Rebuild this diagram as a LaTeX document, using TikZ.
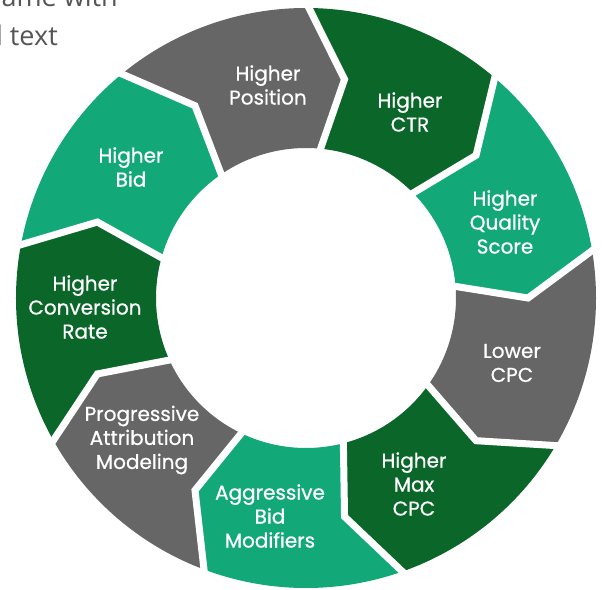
\documentclass[tikz,border=0pt]{standalone}
\usepackage{fontspec}
\setmainfont{Poppins}
\newfontfamily\labelfont{Poppins}[FakeBold=0.7]
\newfontfamily\notefont{Open Sans}
\definecolor{darkleaf}{RGB}{10,102,41}
\definecolor{seagreen}{RGB}{19,168,120}
\definecolor{slategrey}{RGB}{102,102,102}
\definecolor{notegrey}{RGB}{85,85,85}
\tikzset{
  seglabel/.style={text=white, align=center, inner sep=0pt, font=\labelfont\fontsize{20}{24}\selectfont},
  gapline/.style={draw=white, line width=7pt, line join=miter},
  notetext/.style={text=notegrey, anchor=base east, inner sep=0pt, font=\notefont\fontsize{27}{32}\selectfont},
}
\begin{document}
\begin{tikzpicture}[x=1pt,y=1pt]
\useasboundingbox (-306,-291) rectangle (299,298);
\clip (-306,-291) rectangle (299,298);
\def\rout{290} \def\rin{150} \def\rmid{222}
% ring segments, clockwise
\foreach \b/\col in {85/darkleaf,45/seagreen,5/slategrey,-35/darkleaf,-75/seagreen,-115/slategrey,-155/darkleaf,165/seagreen,125/slategrey}{
  \pgfmathsetmacro\e{\b-40}
  \fill[\col] (\b+5:\rout) arc[start angle=\b+5, end angle=\e+5, radius=\rout]
    -- (\e-5:\rmid) -- (\e:\rin) arc[start angle=\e, end angle=\b, radius=\rin]
    -- (\b-5:\rmid) -- cycle;
}
\foreach \b in {85,45,5,-35,-75,-115,-155,165,125}
  \draw[gapline] (\b+5:\rout+6) -- (\b-5:\rmid) -- (\b:\rin-6);
\node[seglabel] (position) at (-38,213) {Higher\\Position};
\node[seglabel] (ctr) at (104,186) {Higher\\CTR};
\node[seglabel] (quality) at (199,76) {Higher\\Quality\\Score};
\node[seglabel] (lowcpc) at (206,-65) {Lower\\CPC};
\node[seglabel] (maxcpc) at (108,-186) {Higher\\Max\\CPC};
\node[seglabel] (modifiers) at (-36,-218) {Aggressive\\Bid\\Modifiers};
\node[seglabel] (attribution) at (-164,-142) {Progressive\\Attribution\\Modeling};
\node[seglabel] (conversion) at (-221,-9) {Higher\\Conversion\\Rate};
\node[seglabel] (bid) at (-175,131) {Higher\\Bid};
% cut-off caption
\node[notetext] (noteone) at (-188,291) {ame with};
\node[notetext] (notetwo) at (-248,252) {l text};
\end{tikzpicture}
\end{document}
